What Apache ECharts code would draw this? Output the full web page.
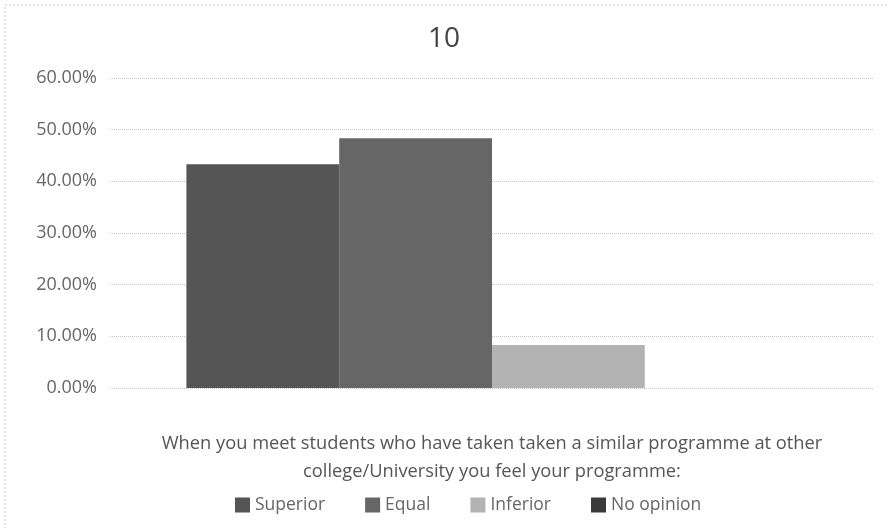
<!DOCTYPE html>
<html>
<head>
<meta charset="utf-8">
<script src="https://cdn.jsdelivr.net/npm/echarts@6/dist/echarts.min.js"></script>
<style>html,body{margin:0;padding:0;background:#fff}#c{width:888px;height:528px}</style>
</head>
<body>
<div id="c"></div>
<script>
const categories = ['Q10'];
const seriesNames = ['Superior', 'Equal', 'Inferior', 'No opinion'];
const superiorValues = [0.4333];
const equalValues = [0.4833];
const inferiorValues = [0.0833];
const noOpinionValues = [0];
const yTicks = [0, 0.1, 0.2, 0.3, 0.4, 0.5, 0.6];
const titleText = '10';
const axisTitle = 'When you meet students who have taken taken a similar programme at other\ncollege/University you feel your programme:';

const colors = ['#555555', '#666666', '#b3b3b3', '#3a3a3a'];
const valueSets = [superiorValues, equalValues, inferiorValues, noOpinionValues];
const font = '"Open Sans", sans-serif';

const chart = echarts.init(document.getElementById('c'));
chart.setOption({
  animation: false,
  backgroundColor: '#fff',
  title: {
    text: titleText, left: 'center', top: 20,
    textStyle: { fontFamily: font, fontSize: 28, fontWeight: 'normal', color: '#444' }
  },
  legend: {
    data: seriesNames, bottom: 9, left: 230, itemWidth: 15, itemHeight: 15, itemGap: 40,
    icon: 'rect',
    textStyle: { fontFamily: font, fontSize: 17.5, color: '#666' }
  },
  grid: { left: 110, right: 14, top: 78, bottom: 140 },
  xAxis: {
    type: 'category', data: categories,
    axisLine: { show: false }, axisTick: { show: false }, axisLabel: { show: false },
    name: axisTitle, nameLocation: 'middle', nameGap: 42,
    nameTextStyle: { fontFamily: font, fontSize: 18.3, color: '#555', lineHeight: 28 }
  },
  yAxis: {
    type: 'value', min: yTicks[0], max: yTicks[yTicks.length - 1], interval: 0.1,
    axisLine: { show: false }, axisTick: { show: false },
    axisLabel: { fontFamily: font, fontSize: 18, color: '#666', margin: 13,
      formatter: v => (v * 100).toFixed(2) + '%' },
    splitLine: { lineStyle: { color: '#c4c4c4', type: 'dotted', width: 1 } }
  },
  graphic: [{
    type: 'rect', shape: { x: 5, y: 5, width: 886, height: 530 },
    style: { fill: 'none', stroke: '#c8c8c8', lineDash: [2, 2], lineWidth: 1 }, silent: true
  }],
  series: seriesNames.map((n, i) => ({
    name: n, type: 'bar', data: valueSets[i],
    barGap: '0%', barCategoryGap: '20%',
    itemStyle: { color: colors[i] }
  }))
});
</script>
</body>
</html>
